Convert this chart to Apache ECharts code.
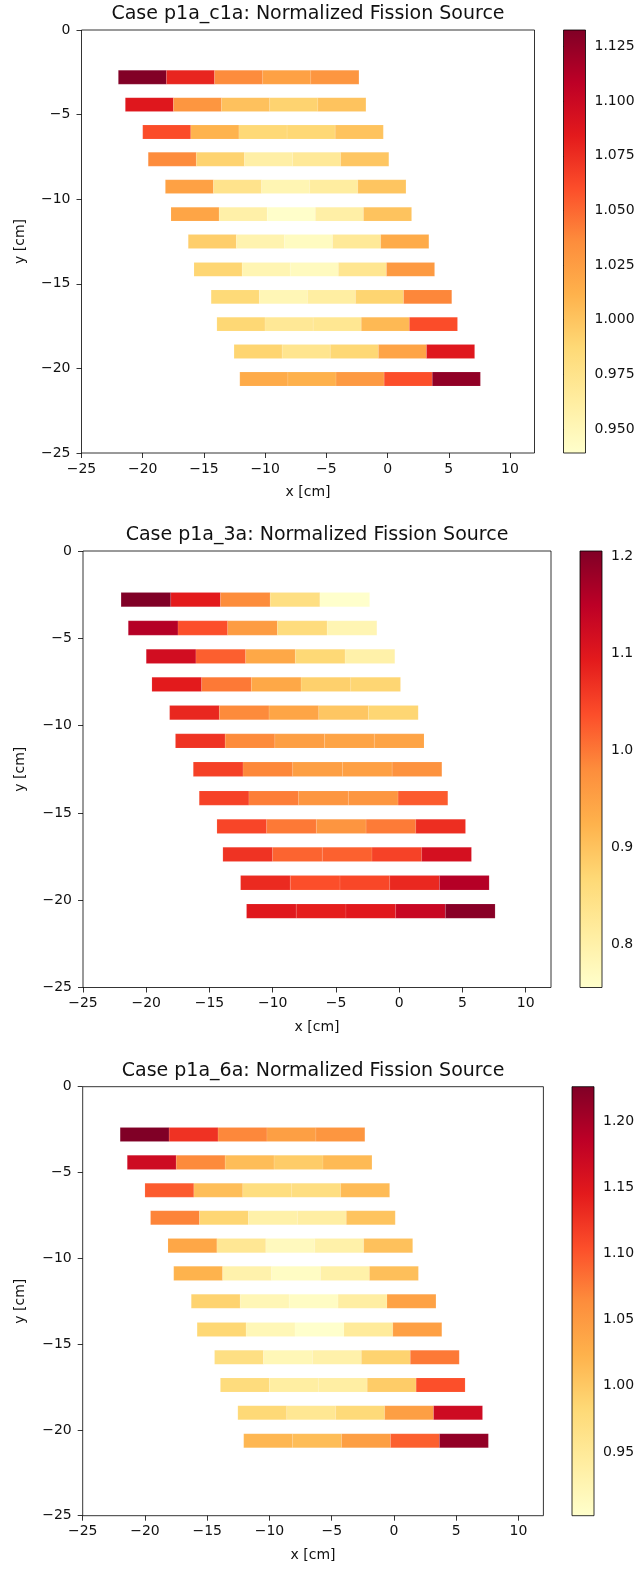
<!DOCTYPE html>
<html>
<head>
<meta charset="utf-8">
<script src="https://cdn.jsdelivr.net/npm/echarts@6/dist/echarts.min.js"></script>
<style>
  html, body { margin: 0; padding: 0; background: #fff; }
  #main { width: 640px; height: 1570px; }
</style>
</head>
<body>
<div id="main"></div>
<script>
// row centres and left ends of the fuel rows (cm)
const rowY = [-2.79, -4.41, -6.03, -7.64, -9.26, -10.88, -12.50, -14.15, -15.77, -17.38, -19.00, -20.63];
const rowX0 = [-21.99, -21.42, -20.00, -19.55, -18.15, -17.69, -16.28, -15.81, -14.41, -13.94, -12.54, -12.07];
const cellW = 3.93;
const cellH = 0.82;

// normalized fission source, 5 cells per row
const srcC1a = [
    [1.132, 1.079, 1.036, 1.023, 1.030],
    [1.087, 1.030, 1.002, 0.991, 1.001],
    [1.061, 1.011, 0.987, 0.988, 1.001],
    [1.036, 0.991, 0.960, 0.968, 0.999],
    [1.023, 0.975, 0.953, 0.963, 1.000],
    [1.020, 0.959, 0.940, 0.960, 1.001],
    [0.994, 0.955, 0.945, 0.968, 1.016],
    [0.989, 0.953, 0.946, 0.972, 1.027],
    [0.986, 0.951, 0.962, 0.990, 1.038],
    [0.988, 0.969, 0.971, 1.007, 1.061],
    [0.990, 0.973, 0.988, 1.021, 1.087],
    [1.016, 1.012, 1.027, 1.060, 1.126]
];
const src3a = [
    [1.205, 1.093, 0.980, 0.850, 0.756],
    [1.156, 1.037, 0.958, 0.859, 0.787],
    [1.120, 1.021, 0.940, 0.868, 0.800],
    [1.093, 0.998, 0.940, 0.881, 0.872],
    [1.079, 0.982, 0.944, 0.895, 0.872],
    [1.066, 0.982, 0.953, 0.946, 0.946],
    [1.052, 0.985, 0.953, 0.952, 0.971],
    [1.050, 0.994, 0.967, 0.967, 1.025],
    [1.046, 0.998, 0.968, 0.996, 1.071],
    [1.066, 1.017, 1.020, 1.049, 1.115],
    [1.075, 1.037, 1.044, 1.078, 1.156],
    [1.097, 1.088, 1.096, 1.133, 1.198]
];
const src6a = [
    [1.226, 1.126, 1.067, 1.044, 1.054],
    [1.168, 1.065, 1.012, 0.996, 1.015],
    [1.096, 1.011, 0.973, 0.972, 1.014],
    [1.070, 0.986, 0.934, 0.940, 1.005],
    [1.035, 0.954, 0.915, 0.934, 1.008],
    [1.022, 0.931, 0.909, 0.934, 1.010],
    [0.989, 0.922, 0.909, 0.940, 1.041],
    [0.984, 0.921, 0.902, 0.947, 1.043],
    [0.970, 0.921, 0.933, 0.989, 1.077],
    [0.976, 0.941, 0.940, 0.996, 1.104],
    [0.982, 0.955, 0.980, 1.044, 1.168],
    [1.018, 1.012, 1.044, 1.093, 1.213]
];

const xTicks = [-25, -20, -15, -10, -5, 0, 5, 10];
const yTicks = [-25, -20, -15, -10, -5, 0];
const cbTicks1 = [0.950, 0.975, 1.000, 1.025, 1.050, 1.075, 1.100, 1.125];
const cbTicks2 = [0.8, 0.9, 1.0, 1.1, 1.2];
const cbTicks3 = [0.95, 1.00, 1.05, 1.10, 1.15, 1.20];
const cbRange1 = [0.939, 1.1326];
const cbRange2 = [0.7554, 1.2052];
const cbRange3 = [0.9019, 1.2259];

const ylOrRd = ['#ffffcc', '#ffeda0', '#fed976', '#feb24c', '#fd8d3c', '#fc4e2a', '#e31a1c', '#bd0026', '#800026'];
const FONT = 'DejaVu Sans';
const INK = '#111';

const panels = [
    { name: 'p1a_c1a', src: srcC1a, ticks: cbTicks1, range: cbRange1, digits: 3,
      plot: { left: 81.5, top: 30, width: 453, height: 423 }, cbLeft: 563.5 },
    { name: 'p1a_3a', src: src3a, ticks: cbTicks2, range: cbRange2, digits: 1,
      plot: { left: 83, top: 551, width: 468, height: 436.5 }, cbLeft: 580 },
    { name: 'p1a_6a', src: src6a, ticks: cbTicks3, range: cbRange3, digits: 2,
      plot: { left: 82.7, top: 1086.7, width: 460.7, height: 429 }, cbLeft: 572 }
];

const minus = v => String(v).replace('-', '\u2212');

function renderCell(params, api) {
    const p0 = api.coord([api.value(0), api.value(2) + cellH / 2]);
    const p1 = api.coord([api.value(1), api.value(2) - cellH / 2]);
    return {
        type: 'rect',
        shape: { x: p0[0], y: p0[1], width: p1[0] - p0[0], height: p1[1] - p0[1] },
        style: { fill: api.visual('color'), stroke: 'rgba(255,255,255,0.2)', lineWidth: 0.5 }
    };
}

function renderBar(params, api) {
    const p0 = api.coord([0, api.value(1)]);
    const p1 = api.coord([1, api.value(0)]);
    const stops = ylOrRd.map((c, i) => ({ offset: i / (ylOrRd.length - 1), color: c }));
    return {
        type: 'rect',
        shape: { x: p0[0], y: p0[1], width: p1[0] - p0[0], height: p1[1] - p0[1] },
        style: { fill: new echarts.graphic.LinearGradient(0, 1, 0, 0, stops), stroke: '#000', lineWidth: 0.8 }
    };
}

const grid = [], xAxis = [], yAxis = [], series = [], visualMap = [], graphic = [];
const tickStyle = { show: true, length: 5, lineStyle: { color: '#000', width: 0.8 } };
const labelStyle = { color: INK, fontFamily: FONT, fontSize: 14 };

panels.forEach((p, k) => {
    const g = 2 * k;
    grid.push(Object.assign({ show: true, borderColor: '#000', borderWidth: 0.8, backgroundColor: 'transparent' }, p.plot));
    grid.push({ left: p.cbLeft, top: p.plot.top, width: 22, height: p.plot.height });

    xAxis.push({
        type: 'value', gridIndex: g, min: -25, max: 12,
        axisLine: { show: false, onZero: false }, splitLine: { show: false },
        axisTick: Object.assign({ customValues: xTicks }, tickStyle),
        axisLabel: Object.assign({ customValues: xTicks, margin: 9, formatter: minus }, labelStyle)
    });
    yAxis.push({
        type: 'value', gridIndex: g, min: -25, max: 0,
        axisLine: { show: false, onZero: false }, splitLine: { show: false },
        axisTick: Object.assign({ customValues: yTicks }, tickStyle),
        axisLabel: Object.assign({ customValues: yTicks, margin: 11, formatter: minus }, labelStyle)
    });
    xAxis.push({ type: 'value', gridIndex: g + 1, min: 0, max: 1, show: false });
    yAxis.push({
        type: 'value', gridIndex: g + 1, position: 'right', min: p.range[0], max: p.range[1],
        axisLine: { show: false }, splitLine: { show: false },
        axisTick: Object.assign({ customValues: p.ticks }, tickStyle),
        axisLabel: Object.assign({ customValues: p.ticks, margin: 9, formatter: v => v.toFixed(p.digits) }, labelStyle)
    });

    const cells = [];
    p.src.forEach((row, r) => {
        row.forEach((v, c) => {
            const x0 = rowX0[r] + c * cellW;
            cells.push([x0, x0 + cellW, rowY[r], v]);
        });
    });
    series.push({
        type: 'custom', xAxisIndex: g, yAxisIndex: g, renderItem: renderCell,
        encode: { x: [0, 1], y: 2 }, data: cells
    });
    visualMap.push({
        type: 'continuous', show: false, seriesIndex: 2 * k, dimension: 3,
        min: p.range[0], max: p.range[1], inRange: { color: ylOrRd }
    });
    series.push({
        type: 'custom', xAxisIndex: g + 1, yAxisIndex: g + 1, renderItem: renderBar,
        encode: { y: [0, 1] }, data: [[p.range[0], p.range[1]]], silent: true
    });

    const cx = p.plot.left + p.plot.width / 2;
    const bottom = p.plot.top + p.plot.height;
    graphic.push({
        type: 'text', x: cx, y: p.plot.top - 15.5,
        style: { text: 'Case ' + p.name + ': Normalized Fission Source', font: '19px "' + FONT + '"',
                 fill: INK, align: 'center', verticalAlign: 'middle', textAlign: 'center', textVerticalAlign: 'middle' }
    });
    graphic.push({
        type: 'text', x: cx, y: bottom + 39.5,
        style: { text: 'x [cm]', font: '14px "' + FONT + '"', fill: INK,
                 align: 'center', verticalAlign: 'middle', textAlign: 'center', textVerticalAlign: 'middle' }
    });
    graphic.push({
        type: 'text', x: 20.5, y: p.plot.top + p.plot.height / 2, rotation: Math.PI / 2,
        style: { text: 'y [cm]', font: '14px "' + FONT + '"', fill: INK,
                 align: 'center', verticalAlign: 'middle', textAlign: 'center', textVerticalAlign: 'middle' }
    });
});

const chart = echarts.init(document.getElementById('main'));
chart.setOption({
    animation: false,
    backgroundColor: '#fff',
    textStyle: { fontFamily: FONT },
    grid: grid,
    xAxis: xAxis,
    yAxis: yAxis,
    visualMap: visualMap,
    series: series,
    graphic: graphic
});
</script>
</body>
</html>
